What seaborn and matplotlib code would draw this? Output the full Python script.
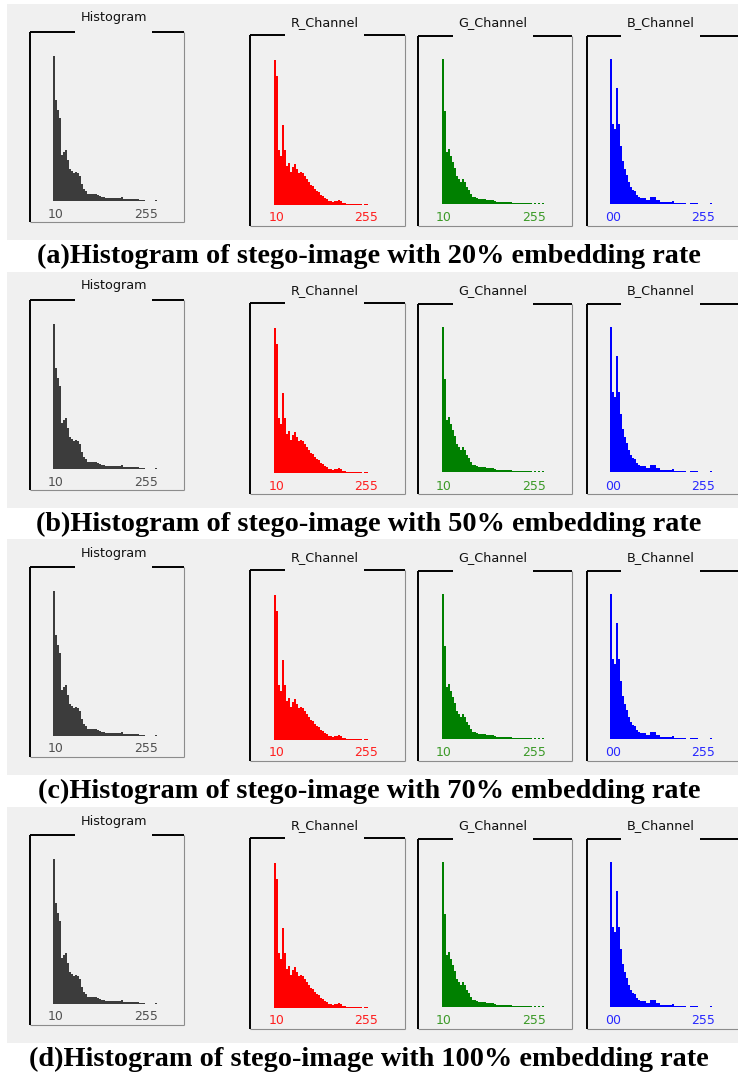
import numpy as np
import pandas as pd
import matplotlib
matplotlib.use("Agg")
import matplotlib.pyplot as plt
from matplotlib.patches import Rectangle
from matplotlib.lines import Line2D
import seaborn as sns

# ---------------- data (relative bin heights, 0-100) ----------------
gray_hist = [100, 70, 63, 57, 32, 34, 35, 28, 22, 21, 19, 20, 19, 17, 12, 8, 7, 5, 5, 5,
             5, 4.5, 4, 3.5, 3, 2.5, 2, 2, 2, 2, 2, 2, 2, 2, 2.5, 1.2, 1.2, 1.2, 1.2, 1.2,
             1.2, 1.2, 1.2, 0.7, 0.7, 0.7, 0, 0, 0, 0, 0, 0.7]
red_hist = [100, 89, 38, 34, 55, 38, 27, 29, 23, 26, 28, 25, 22, 23, 22, 20, 18, 16, 14, 13,
            11, 10, 9, 7, 6, 5, 4, 3, 3, 2.3, 2.5, 3, 3.5, 3, 1.5, 1.2, 0.7, 0.7, 0.7, 0.7,
            0.7, 0.7, 0.7, 0.7, 0, 0.7, 0.7]
green_hist = [100, 64, 36, 38, 33, 29, 25, 19, 17, 15, 17, 15, 12, 10, 7, 5, 4.5, 4, 3.2, 3.2,
              3.2, 3.2, 3, 3, 2.5, 2.5, 2, 1.2, 1.2, 1.2, 1.2, 1.2, 1.2, 1.2, 1.2, 0.7, 0.7,
              0.7, 0.7, 0.7, 0.7, 0.7, 0.7, 0.7, 0.7, 0, 0.7, 0, 0.7, 0, 0.7]
blue_hist = [100, 55, 52, 80, 55, 40, 30, 24, 20, 15, 12, 10, 9, 6, 5, 4, 4, 4, 3, 3,
             4.5, 4.5, 4.5, 3, 3, 1.2, 1.2, 1.2, 1.2, 1.2, 1.2, 2.3, 0.7, 0.7, 0.7, 0.7, 0.7,
             0.7, 0, 0, 0.7, 0.7, 0.7, 0.7, 0, 0, 0, 0, 0, 0, 0.7]

panel_titles = ["Histogram", "R_Channel", "G_Channel", "B_Channel"]
tick_labels = [["10", "255"], ["10", "255"], ["10", "255"], ["00", "255"]]
captions = ["(a)Histogram of stego-image with 20% embedding rate",
            "(b)Histogram of stego-image with 50% embedding rate",
            "(c)Histogram of stego-image with 70% embedding rate",
            "(d)Histogram of stego-image with 100% embedding rate"]
channel_data = [gray_hist, red_hist, green_hist, blue_hist]

# ---------------- styling / layout ----------------
bar_colors = ["#3c3c3c", "#ff0000", "#008000", "#0000ff"]
label_colors = ["#505050", "#ff2020", "#3c9a28", "#2828ff"]

W, H = 738, 1076
sns.set_theme(style="white")
plt.rcParams["font.family"] = ["DejaVu Sans"]

fig = plt.figure(figsize=(W / 100, H / 100), dpi=100)
fig.patch.set_facecolor("white")


def fx(x):
    return x / W


def fy(y):
    return 1 - y / H


def hline(x0, x1, y, color, lw):
    fig.add_artist(Line2D([fx(x0), fx(x1)], [fy(y), fy(y)], color=color, lw=lw,
                          solid_capstyle="butt", transform=fig.transFigure))


def vline(x, y0, y1, color, lw):
    fig.add_artist(Line2D([fx(x), fx(x)], [fy(y0), fy(y1)], color=color, lw=lw,
                          solid_capstyle="butt", transform=fig.transFigure))


# box geometry relative to row top: left, right, top, bottom, title_y, gap_l, gap_r
boxes = [
    (30, 184, 28, 218, 14, 75, 152),
    (250, 405, 31, 222, 19, 285, 364),
    (418, 572, 32, 222, 19, 453, 533),
    (587, 760, 32, 222, 19, 621, 700),
]
# histogram geometry: x0, baseline (rel), label y (rel), label x positions
hists = [
    (53, 197, 210, (56, 146)),
    (274, 201, 214, (277, 366)),
    (442, 200, 214, (444, 534)),
    (610, 200, 214, (613, 703)),
]
BIN_PX = 2.0
NBINS = 64
HIST_H = 145
ROW_STEP = 267.7

for r in range(4):
    top = round(4 + r * ROW_STEP)
    # gray window background
    fig.add_artist(Rectangle((fx(7), fy(top + 236)), fx(W) - fx(7), (236) / H,
                             transform=fig.transFigure, facecolor="#f0f0f0",
                             edgecolor="none", zorder=0))
    for c in range(4):
        L, R, T, B, ty, gl, gr = boxes[c]
        T += top
        B += top
        # group box frame
        hline(L, gl, T, "#000000", 1.4)
        hline(gr, min(R, W), T, "#000000", 1.4)
        vline(L, T, B, "#000000", 1.4)
        if R < W:
            vline(R, T, B, "#8c8c8c", 0.8)
        hline(L, min(R, W), B, "#8c8c8c", 0.8)
        fig.text(fx((gl + gr) / 2), fy(top + ty), panel_titles[c], ha="center",
                 va="center", fontsize=9.2, color="#101010")

        # histogram
        x0, base, ly, lxs = hists[c]
        ax = fig.add_axes([fx(x0), fy(top + base), NBINS * BIN_PX / W, HIST_H / H])
        vals = channel_data[c]
        df = pd.DataFrame({"bin": np.arange(len(vals)), "count": vals})
        sns.barplot(data=df, x="bin", y="count", ax=ax, color=bar_colors[c],
                    width=1.0, linewidth=0, saturation=1, native_scale=True)
        ax.set_xlim(-0.5, NBINS - 0.5)
        ax.set_ylim(0, 100)
        ax.set_axis_off()
        ax.patch.set_alpha(0)
        for lx, lab in zip(lxs, tick_labels[c]):
            fig.text(fx(lx), fy(top + ly), lab, ha="center", va="center",
                     fontsize=9, color=label_colors[c])

    fig.text(0.5, fy(top + 252), captions[r], ha="center", va="center",
             fontsize=20.3, fontweight="bold", family=["Liberation Serif", "DejaVu Serif"],
             color="black")

fig.savefig("out.png", dpi=100, facecolor="white")
